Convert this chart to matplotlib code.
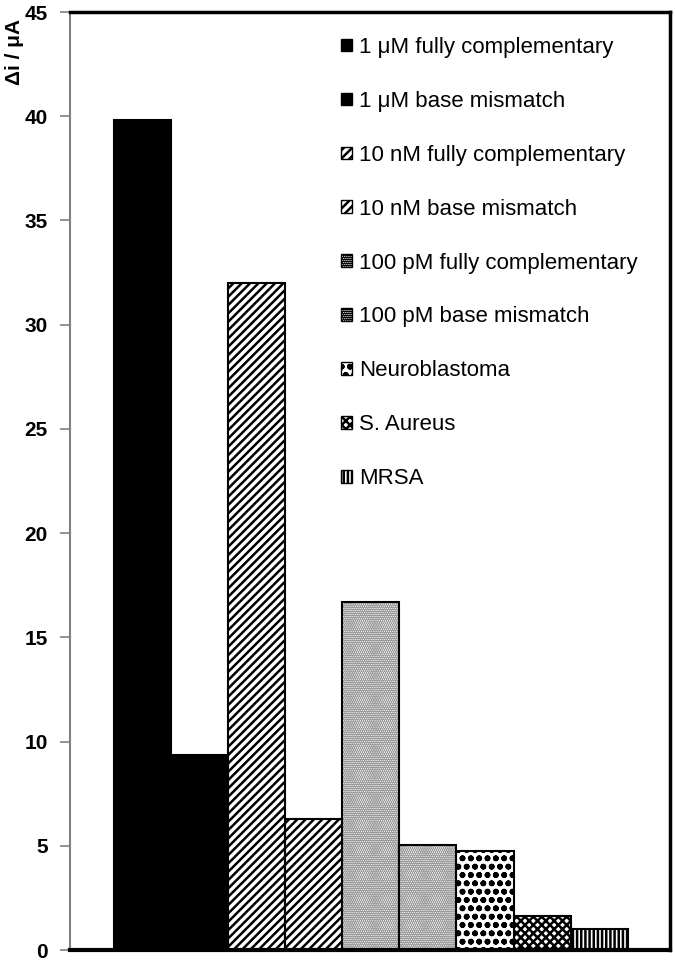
import numpy as np
import matplotlib
matplotlib.use('Agg')
import matplotlib.pyplot as plt

# ===== data =====
labels = ['1 μM fully complementary', '1 μM base mismatch',
          '10 nM fully complementary', '10 nM base mismatch',
          '100 pM fully complementary', '100 pM base mismatch',
          'Neuroblastoma', 'S. Aureus', 'MRSA']
values = [39.8, 9.35, 32.0, 6.3, 16.7, 5.05, 4.75, 1.65, 1.0]
yticks = [0, 5, 10, 15, 20, 25, 30, 35, 40, 45]

# style per bar: facecolor, hatch, hatch colour
styles = [
    ('black', None, 'black'),
    ('black', None, 'black'),
    ('white', '////', 'black'),
    ('white', '////', 'black'),
    ('#f5f5f5', '........', '#9a9a9a'),
    ('#f5f5f5', '........', '#9a9a9a'),
    ('white', 'oo', 'black'),
    ('white', 'xxxx', 'black'),
    ('white', '||||', 'black'),
]

plt.rcParams['font.family'] = ['Liberation Sans', 'DejaVu Sans']
plt.rcParams['hatch.linewidth'] = 1.8

fig = plt.figure(figsize=(6.75, 9.6), dpi=100)
ax = fig.add_axes([0.1037, 0.0104, 0.8889, 0.9771])

x = np.arange(len(values))
for i, (v, lab, (fc, h, hc)) in enumerate(zip(values, labels, styles)):
    ax.bar(x[i], v, width=1.0, color=fc, hatch=h, edgecolor=hc,
           linewidth=0, label=lab, zorder=2)
    # outline drawn separately so hatch colour can differ
    ax.bar(x[i], v, width=1.0, color='none', edgecolor='black',
           linewidth=1.5, zorder=3)

ax.set_xlim(-1.27, 9.24)
ax.set_ylim(0, 45)
ax.set_yticks(yticks)
ax.set_xticks([])
ax.tick_params(axis='y', direction='out', length=7, width=1.2, color='#808080',
               labelsize=15, pad=9)
for t in ax.get_yticklabels():
    t.set_fontweight('bold')

ax.spines['left'].set_color('#808080')
ax.spines['left'].set_linewidth(1.5)
ax.spines['bottom'].set_linewidth(3)
ax.spines['top'].set_linewidth(2.5)
ax.spines['right'].set_linewidth(2.5)

fig.text(0.022, 1 - 19 / 960, 'Δi / μA', rotation=90, ha='center', va='top',
         fontsize=15, fontweight='bold')

handles, labs = ax.get_legend_handles_labels()
leg = ax.legend(handles, labs, loc='upper left',
                bbox_to_anchor=(341 / 675, 1 - 37 / 960),
                bbox_transform=fig.transFigure, frameon=False,
                fontsize=16, labelspacing=1.48, handlelength=0.5,
                handleheight=0.5, handletextpad=0.3, borderpad=0,
                borderaxespad=0)
for p in leg.get_patches():
    p.set_edgecolor('black')
    p.set_linewidth(1.0)

fig.savefig('out.png', dpi=100)
